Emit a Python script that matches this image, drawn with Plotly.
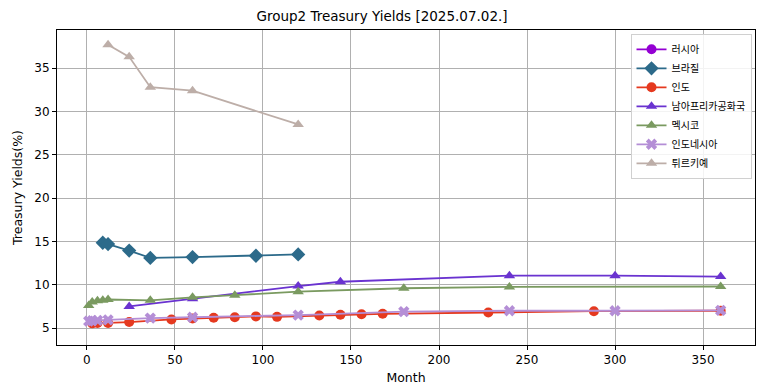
import plotly.graph_objects as go

# ---- data ----
russia_x = [None]
russia_y = [None]

brazil_x = [9, 12, 24, 36, 60, 96, 120]
brazil_y = [14.85, 14.7, 13.95, 13.1, 13.2, 13.35, 13.5]

india_x = [3, 6, 12, 24, 48, 60, 72, 84, 96, 108, 132, 144, 156, 168, 228, 288, 360]
india_y = [5.55, 5.6, 5.6, 5.7, 6.0, 6.1, 6.2, 6.25, 6.35, 6.3, 6.45, 6.55, 6.6, 6.65, 6.8, 6.95, 7.0]

safrica_x = [24, 60, 120, 144, 240, 300, 360]
safrica_y = [7.5, 8.4, 9.85, 10.35, 11.05, 11.05, 10.95]

mexico_x = [1, 3, 6, 9, 12, 36, 60, 84, 120, 180, 240, 360]
mexico_y = [7.6, 8.0, 8.15, 8.2, 8.3, 8.2, 8.55, 8.8, 9.2, 9.6, 9.75, 9.8]

indonesia_x = [1, 3, 6, 12, 36, 60, 120, 180, 240, 300, 360]
indonesia_y = [5.8, 5.85, 5.9, 5.95, 6.15, 6.25, 6.5, 6.9, 7.0, 7.0, 7.05]

turkey_x = [12, 24, 36, 60, 120]
turkey_y = [37.7, 36.3, 32.8, 32.4, 28.5]

series = [
    ("러시아", russia_x, russia_y, "#9400D3", "circle"),
    ("브라질", brazil_x, brazil_y, "#2C6A8A", "diamond"),
    ("인도", india_x, india_y, "#E5391F", "circle"),
    ("남아프리카공화국", safrica_x, safrica_y, "#6A33D0", "triangle-up"),
    ("멕시코", mexico_x, mexico_y, "#7A9A60", "triangle-up"),
    ("인도네시아", indonesia_x, indonesia_y, "#B48ED6", "x"),
    ("튀르키예", turkey_x, turkey_y, "#BDAEA8", "triangle-up"),
]

fig = go.Figure()
for name, xs, ys, color, sym in series:
    fig.add_trace(go.Scatter(
        x=xs, y=ys, name=name, mode="lines+markers",
        line=dict(color=color, width=1.8),
        marker=dict(color=color, symbol=sym, size=10 if sym != "diamond" else 11),
        showlegend=True,
    ))

axis_common = dict(
    showline=True, linecolor="black", linewidth=1, mirror=True,
    ticks="outside", ticklen=4, tickcolor="black",
    showgrid=True, gridcolor="#b0b0b0", gridwidth=1,
    zeroline=False, automargin=False,
    tickfont=dict(family="DejaVu Sans", size=12, color="black"),
    title_font=dict(family="DejaVu Sans", size=12.5, color="black"),
)

fig.update_xaxes(range=[-17, 379.5], tickvals=[0, 50, 100, 150, 200, 250, 300, 350],
                 title_text="Month", title_standoff=6, **axis_common)
fig.update_yaxes(range=[3.05, 39.4], tickvals=[5, 10, 15, 20, 25, 30, 35],
                 title_text="Treasury Yields(%)", title_standoff=8, **axis_common)

fig.update_layout(
    width=764, height=391,
    margin=dict(l=57, r=9, t=30, b=46),
    paper_bgcolor="white", plot_bgcolor="white",
    title=dict(text="Group2 Treasury Yields [2025.07.02.]", x=0.5, xanchor="center",
               y=0.958, yanchor="middle",
               font=dict(family="DejaVu Sans", size=13.5, color="black")),
    legend=dict(x=0.995, xanchor="right", y=0.988, yanchor="top",
                bgcolor="rgba(255,255,255,0.85)", bordercolor="#d0d0d0", borderwidth=1,
                font=dict(family="Noto Sans CJK KR", size=10, color="black"),
                tracegroupgap=0, itemwidth=30),
    showlegend=True,
)

fig.write_html("out.html", config={"displayModeBar": False},
               post_script="document.body.style.margin='0';")
